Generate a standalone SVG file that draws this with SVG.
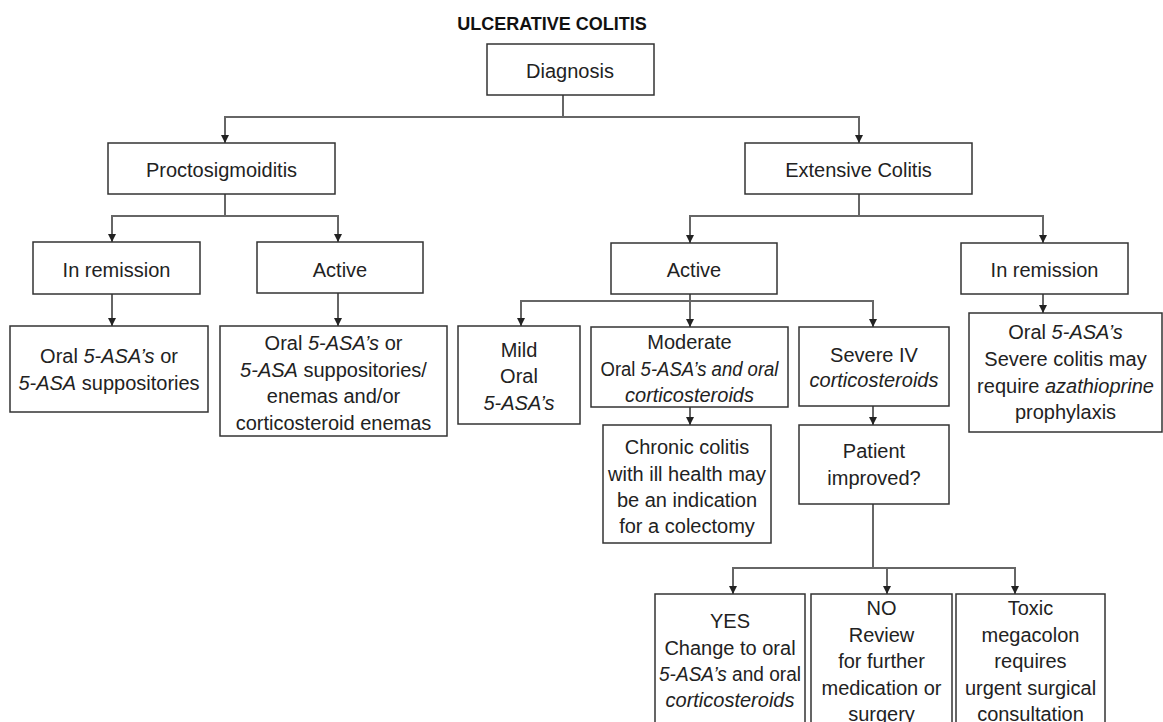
<svg xmlns="http://www.w3.org/2000/svg" width="1163" height="722" viewBox="0 0 1163 722">
<defs>
<marker id="arr" viewBox="0 0 10 10" refX="10" refY="5" markerWidth="9" markerHeight="8" markerUnits="userSpaceOnUse" orient="auto">
<path d="M0,0 L10,5 L0,10 z" fill="#222"/>
</marker>
<style>
.box{fill:#fff;stroke:#333;stroke-width:1.5}
.t{font-family:"Liberation Sans",Arial,sans-serif;font-size:20px;fill:#222;text-anchor:middle}
.i{font-style:italic}
.title{font-family:"Liberation Sans",Arial,sans-serif;font-size:18px;font-weight:bold;fill:#111;text-anchor:middle}
.c{fill:none;stroke:#666;stroke-width:2;marker-end:url(#arr)}
</style>
</defs>
<rect width="1163" height="722" fill="#fff"/>
<text class="title" x="552" y="30">ULCERATIVE COLITIS</text>

<g id="connectors">
<path class="c" d="M563 95 V117 H225 V143"/>
<path class="c" d="M563 117 H859 V143"/>
<path class="c" d="M225 194 V216 H112 V242"/>
<path class="c" d="M225 216 H338 V242"/>
<path class="c" d="M112 294 V326"/>
<path class="c" d="M338 293 V326"/>
<path class="c" d="M859 194 V216 H690 V243"/>
<path class="c" d="M859 216 H1043 V243"/>
<path class="c" d="M1043 294 V313"/>
<path class="c" d="M690 294 V301 H521 V326"/>
<path class="c" d="M690 301 V327"/>
<path class="c" d="M690 301 H873 V327"/>
<path class="c" d="M690 407 V425"/>
<path class="c" d="M873 406 V425"/>
<path class="c" d="M873 504 V568 H733 V594"/>
<path class="c" d="M873 568 H887 V594"/>
<path class="c" d="M887 568 H1015 V594"/>
</g>

<g id="diagnosis"><rect class="box" x="487" y="44" width="167" height="51"/><text class="t" x="570" y="78">Diagnosis</text></g>
<g id="procto"><rect class="box" x="108" y="143" width="227" height="51"/><text class="t" x="221.5" y="177">Proctosigmoiditis</text></g>
<g id="remission-left"><rect class="box" x="33" y="242" width="167" height="52"/><text class="t" x="116.5" y="277">In remission</text></g>
<g id="active-left"><rect class="box" x="257" y="242" width="166" height="51"/><text class="t" x="340" y="277">Active</text></g>
<g id="oral-left"><rect class="box" x="10" y="326" width="198" height="86"/>
<text class="t" x="109" y="363">Oral <tspan class="i">5-ASA’s</tspan> or</text>
<text class="t" x="109" y="390"><tspan class="i">5-ASA</tspan> suppositories</text></g>
<g id="oral-active-left"><rect class="box" x="220" y="326" width="227" height="110"/>
<text class="t" x="333.5" y="350">Oral <tspan class="i">5-ASA’s</tspan> or</text>
<text class="t" x="333.5" y="377"><tspan class="i">5-ASA</tspan> suppositories/</text>
<text class="t" x="333.5" y="403">enemas and/or</text>
<text class="t" x="333.5" y="430">corticosteroid enemas</text></g>

<g id="extensive"><rect class="box" x="745" y="143" width="227" height="51"/><text class="t" x="858.5" y="177">Extensive Colitis</text></g>
<g id="active-right"><rect class="box" x="611" y="243" width="166" height="51"/><text class="t" x="694" y="277">Active</text></g>
<g id="remission-right"><rect class="box" x="961" y="243" width="167" height="51"/><text class="t" x="1044.5" y="277">In remission</text></g>
<g id="oral-right"><rect class="box" x="969" y="313" width="193" height="119"/>
<text class="t" x="1065.5" y="339">Oral <tspan class="i">5-ASA’s</tspan></text>
<text class="t" x="1065.5" y="366">Severe colitis may</text>
<text class="t" x="1065.5" y="393">require <tspan class="i">azathioprine</tspan></text>
<text class="t" x="1065.5" y="419">prophylaxis</text></g>

<g id="mild"><rect class="box" x="458" y="326" width="122" height="98"/>
<text class="t" x="519" y="357">Mild</text>
<text class="t" x="519" y="383">Oral</text>
<text class="t" x="519" y="410"><tspan class="i">5-ASA’s</tspan></text></g>
<g id="moderate"><rect class="box" x="591" y="327" width="197" height="80"/>
<text class="t" x="689.5" y="349">Moderate</text>
<text class="t" x="689.5" y="376" textLength="178" lengthAdjust="spacingAndGlyphs">Oral <tspan class="i">5-ASA’s and oral</tspan></text>
<text class="t" x="689.5" y="402"><tspan class="i">corticosteroids</tspan></text></g>
<g id="chronic"><rect class="box" x="603" y="425" width="168" height="118"/>
<text class="t" x="687" y="454">Chronic colitis</text>
<text class="t" x="687" y="481">with ill health may</text>
<text class="t" x="687" y="507">be an indication</text>
<text class="t" x="687" y="533">for a colectomy</text></g>
<g id="severe"><rect class="box" x="799" y="327" width="150" height="79"/>
<text class="t" x="874" y="362">Severe IV</text>
<text class="t" x="874" y="387"><tspan class="i">corticosteroids</tspan></text></g>
<g id="patient"><rect class="box" x="799" y="425" width="150" height="79"/>
<text class="t" x="874" y="458">Patient</text>
<text class="t" x="874" y="485">improved?</text></g>

<g id="yes"><rect class="box" x="655" y="594" width="150" height="150"/>
<text class="t" x="730" y="628">YES</text>
<text class="t" x="730" y="655">Change to oral</text>
<text class="t" x="730" y="681" textLength="142" lengthAdjust="spacingAndGlyphs"><tspan class="i">5-ASA’s</tspan> and oral</text>
<text class="t" x="730" y="707"><tspan class="i">corticosteroids</tspan></text></g>
<g id="no"><rect class="box" x="811" y="594" width="141" height="150"/>
<text class="t" x="881.5" y="615">NO</text>
<text class="t" x="881.5" y="642">Review</text>
<text class="t" x="881.5" y="668">for further</text>
<text class="t" x="881.5" y="695">medication or</text>
<text class="t" x="881.5" y="721">surgery</text></g>
<g id="toxic"><rect class="box" x="956" y="594" width="149" height="150"/>
<text class="t" x="1030.5" y="615">Toxic</text>
<text class="t" x="1030.5" y="642">megacolon</text>
<text class="t" x="1030.5" y="668">requires</text>
<text class="t" x="1030.5" y="695">urgent surgical</text>
<text class="t" x="1030.5" y="721">consultation</text></g>
</svg>
